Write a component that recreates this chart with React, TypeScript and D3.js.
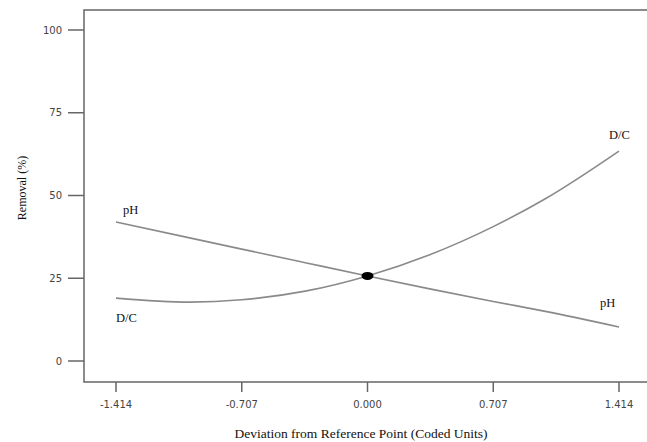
import React, { useEffect, useRef } from 'react';
import * as d3 from 'd3';

// coded deviation values along the x axis
const xTicks = [-1.414, -0.707, 0, 0.707, 1.414];
const yTicks = [0, 25, 50, 75, 100];

// points
const devX = [-1.414, -1.0, -0.707, -0.35, 0, 0.35, 0.707, 1.0, 1.414];
const phY = [42, 37.2, 33.8, 29.7, 25.7, 21.8, 18, 15, 10.3];
const dcY = [19, 17.8, 18.5, 21.1, 25.7, 32.1, 40.6, 49, 63.4];

const refPoint = { x: 0, y: 25.7 };

export default function App() {
  const svgRef = useRef<SVGSVGElement | null>(null);

  useEffect(() => {
    const svg = d3.select(svgRef.current);
    svg.selectAll('*').remove();

    const frame = { left: 84, top: 10, bottom: 382, right: 660 };
    const x = d3.scaleLinear().domain([-1.414, 1.414]).range([116, 619]);
    const y = d3.scaleLinear().domain([0, 100]).range([361, 30]);

    svg.append('rect').attr('width', 647).attr('height', 442).attr('fill', 'white');

    // plot frame
    svg
      .append('rect')
      .attr('x', frame.left)
      .attr('y', frame.top)
      .attr('width', frame.right - frame.left)
      .attr('height', frame.bottom - frame.top)
      .attr('fill', 'none')
      .attr('stroke', '#666')
      .attr('stroke-width', 1.5);

    const tickFont = 'DejaVu Sans, Verdana, sans-serif';

    // y ticks
    const yg = svg.append('g');
    yTicks.forEach((t) => {
      yg.append('line')
        .attr('x1', 68).attr('x2', frame.left)
        .attr('y1', y(t)).attr('y2', y(t))
        .attr('stroke', '#666').attr('stroke-width', 1.5);
      yg.append('text')
        .attr('x', 62).attr('y', y(t) + 3.5)
        .attr('text-anchor', 'end')
        .style('font-family', tickFont).style('font-size', '10px')
        .attr('fill', '#444')
        .text(t);
    });

    // x ticks
    const xg = svg.append('g');
    xTicks.forEach((t) => {
      xg.append('line')
        .attr('x1', x(t)).attr('x2', x(t))
        .attr('y1', frame.bottom).attr('y2', frame.bottom + 10)
        .attr('stroke', '#666').attr('stroke-width', 1.5);
      xg.append('text')
        .attr('x', x(t)).attr('y', 408)
        .attr('text-anchor', 'middle')
        .style('font-family', tickFont).style('font-size', '10px')
        .attr('fill', '#444')
        .text(t.toFixed(3));
    });

    const serif = '"Liberation Serif", "DejaVu Serif", "Times New Roman", serif';

    svg.append('text')
      .attr('x', 361).attr('y', 438)
      .attr('text-anchor', 'middle')
      .style('font-family', serif).style('font-size', '13.5px')
      .attr('fill', '#111')
      .text('Deviation from Reference Point (Coded Units)');

    svg.append('text')
      .attr('transform', 'translate(26,188) rotate(-90)')
      .attr('text-anchor', 'middle')
      .style('font-family', serif).style('font-size', '12px')
      .attr('fill', '#111')
      .text('Removal (%)');

    const line = d3
      .line<number>()
      .x((d, i) => x(devX[i]))
      .y((d) => y(d))
      .curve(d3.curveMonotoneX);

    [phY, dcY].forEach((vals) => {
      svg.append('path')
        .datum(vals)
        .attr('fill', 'none')
        .attr('stroke', '#8a8a8a')
        .attr('stroke-width', 1.6)
        .attr('d', line);
    });

    svg.append('ellipse')
      .attr('cx', x(refPoint.x)).attr('cy', y(refPoint.y))
      .attr('rx', 6).attr('ry', 4)
      .attr('fill', '#000');

    // curve labels
    const last = devX.length - 1;
    const labels = [
      { text: 'pH', x: x(devX[0]) + 7, y: y(phY[0]) - 8 },
      { text: 'D/C', x: x(devX[0]), y: y(dcY[0]) + 24 },
      { text: 'D/C', x: x(devX[last]) - 10, y: y(dcY[last]) - 12 },
      { text: 'pH', x: x(devX[last]) - 19, y: y(phY[last]) - 20 },
    ];
    labels.forEach((l) => {
      svg.append('text')
        .attr('x', l.x).attr('y', l.y)
        .style('font-family', serif).style('font-size', '12.5px')
        .attr('fill', '#111')
        .text(l.text);
    });
  }, []);

  return (
    <svg
      ref={svgRef}
      width={647}
      height={442}
      style={{ position: 'absolute', left: 0, top: 0, display: 'block' }}
    />
  );
}
